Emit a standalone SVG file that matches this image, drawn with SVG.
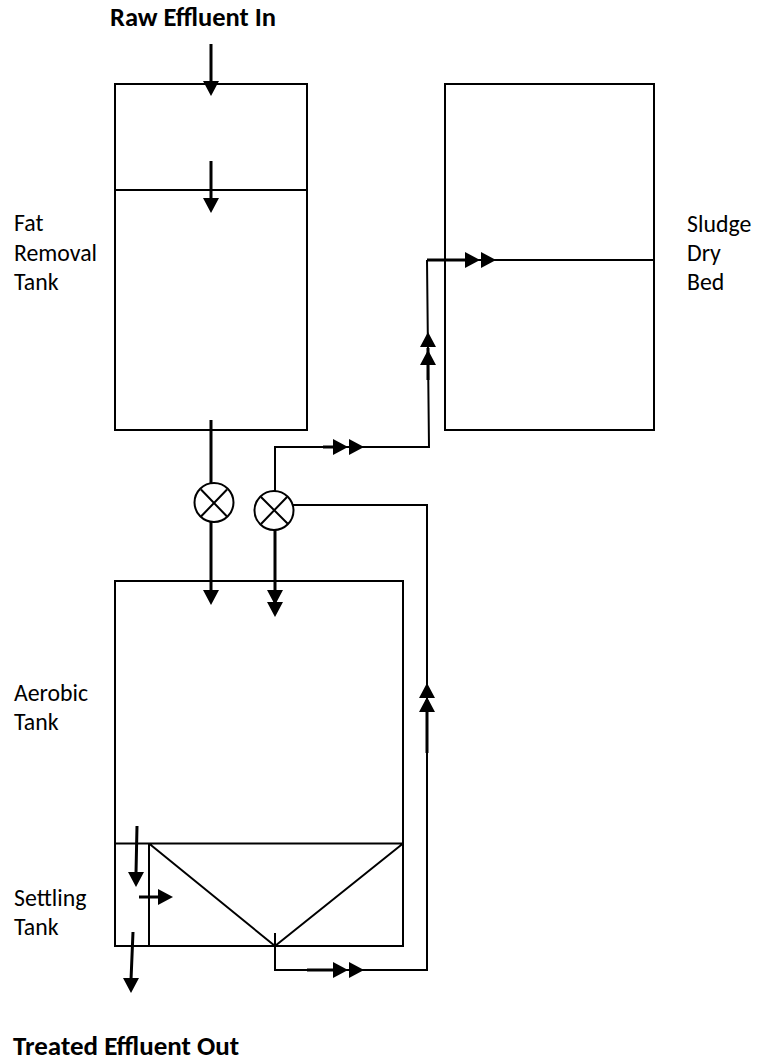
<svg xmlns="http://www.w3.org/2000/svg" width="757" height="1061" viewBox="0 0 757 1061">
<style>
.l{fill:none;stroke:#000;stroke-width:2}
.t{fill:none;stroke:#000;stroke-width:3}
.h{fill:#000;stroke:none}
text{font-family:"Carlito","Open Sans","Liberation Sans",sans-serif;font-size:23.8px;fill:#000}
.b{font-weight:bold;font-size:26.5px}
</style>
<defs>
<path id="ad" class="h" d="M-8,-15 L8,-15 L0,0 Z"/>
<path id="ar" class="h" d="M-15,-8 L-15,8 L0,0 Z"/>
<path id="au" class="h" d="M-8,15 L8,15 L0,0 Z"/>
</defs>
<rect width="757" height="1061" fill="#fff"/>
<g id="fat-tank"><rect class="l" x="115" y="84" width="192" height="346"/><path class="l" d="M115,190H307"/></g>
<g id="dry-bed"><rect class="l" x="445" y="84" width="209" height="346"/><path class="l" d="M427,260H655"/></g>
<g id="aerobic-tank"><rect class="l" x="115" y="581" width="288" height="365"/><path class="l" d="M115,843.5H403M149,843.5V946M149,843.5L275,946L403,843.5"/></g>
<g id="valve-1"><circle class="l" cx="214" cy="502.5" r="19.5"/><path class="l" d="M201,489.5L227,516.5M227,489.5L201,516.5"/></g>
<g id="valve-2"><circle class="l" cx="274" cy="510.5" r="19.5"/><path class="l" d="M261,497L288,524M287,497L261,524"/></g>
<g id="connectors">
<path class="l" d="M275,491V447H429L427,260M293,505H427V970H275V933"/>
<path class="t" d="M211,44V82M211,161V200M211,420V483M211,522V592M275,530V605M137,826L136,873M139,897H160M133,932L131,980M427,260H467M323,447H336M428,348V380M427,700V753M307,970H335"/>
<use href="#ad" x="211" y="96"/><use href="#ad" x="211" y="213"/><use href="#ad" x="211" y="605"/><use href="#ad" x="275" y="605"/><use href="#ad" x="275" y="617"/><use href="#ad" x="136" y="887"/><use href="#ad" x="131" y="993"/>
<use href="#ar" x="173" y="897"/><use href="#ar" x="348" y="447"/><use href="#ar" x="364" y="447"/><use href="#ar" x="480" y="260"/><use href="#ar" x="496" y="260"/><use href="#ar" x="348" y="970"/><use href="#ar" x="364" y="970"/>
<use href="#au" x="428" y="332"/><use href="#au" x="428" y="350"/><use href="#au" x="427" y="683"/><use href="#au" x="427" y="697"/>
</g>
<g id="labels">
<text class="b" x="110" y="26">Raw Effluent In</text>
<text x="14" y="231">Fat</text><text x="14" y="260.5">Removal</text><text x="14" y="290">Tank</text>
<text x="687" y="232">Sludge</text><text x="687" y="260.5">Dry</text><text x="687" y="290">Bed</text>
<text x="14" y="701">Aerobic</text><text x="14" y="730">Tank</text>
<text x="14" y="906">Settling</text><text x="14" y="935">Tank</text>
<text class="b" x="13" y="1055" style="font-size:27px">Treated Effluent Out</text>
</g>
</svg>
